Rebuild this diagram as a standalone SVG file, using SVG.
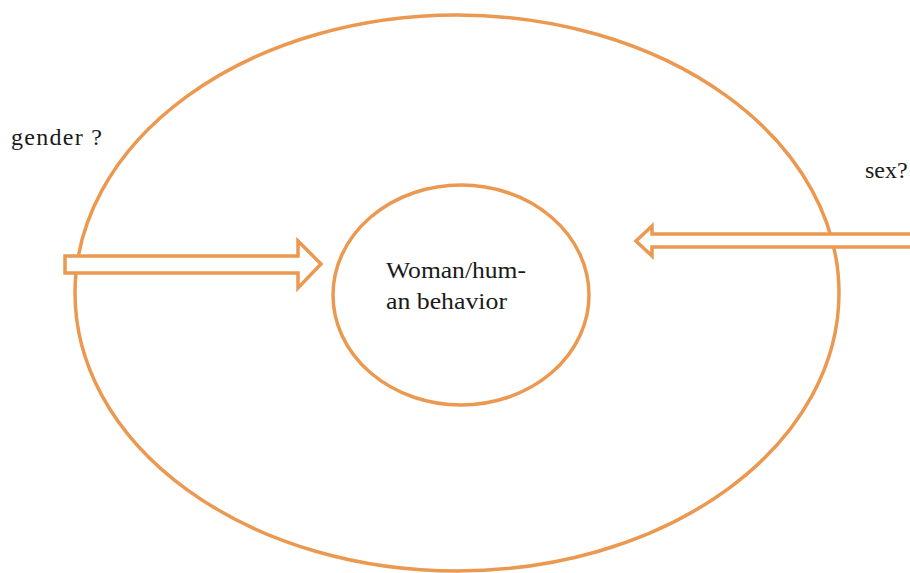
<svg xmlns="http://www.w3.org/2000/svg" width="910" height="573" viewBox="0 0 910 573">
<style>
.ln{fill:none;stroke:#EB9950;stroke-width:3.5}
.ar{fill:#FFFFFF;stroke:#EB9950;stroke-width:3.5;stroke-linejoin:miter}
text{font-family:'Liberation Serif','Times New Roman','DejaVu Serif',serif;font-size:24px;fill:#1a1a1a}
</style>
<rect width="910" height="573" fill="#FFFFFF"/>
<g id="outer"><ellipse class="ln" cx="457" cy="293" rx="382" ry="278"/></g>
<g id="inner">
<ellipse class="ln" cx="461" cy="295" rx="128" ry="110"/>
<text x="386" y="278" textLength="140" lengthAdjust="spacingAndGlyphs">Woman/hum-</text>
<text x="386" y="309" textLength="121" lengthAdjust="spacingAndGlyphs">an behavior</text>
</g>
<g id="connectors">
<polygon class="ar" points="65,256 298,256 298,241 321,264 298,288 298,273 65,273"/>
<polygon class="ar" points="915,234 652,234 652,226 636,241 652,256 652,247 915,247"/>
</g>
<g id="labels">
<text x="11" y="145" textLength="91" lengthAdjust="spacing">gender ?</text>
<text x="865" y="178">sex?</text>
</g>
</svg>
